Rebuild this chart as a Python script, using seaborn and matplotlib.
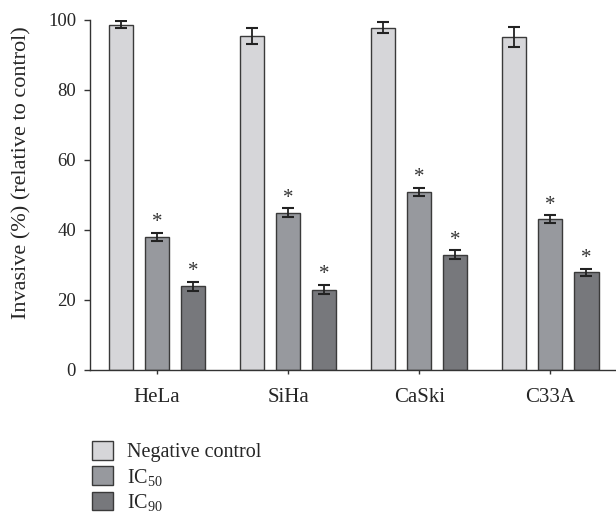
import matplotlib
matplotlib.use("Agg")
import matplotlib.pyplot as plt
import seaborn as sns
import pandas as pd
import numpy as np

cell_lines = ["HeLa", "SiHa", "CaSki", "C33A"]
groups = ["Negative control", "IC$_{\\mathregular{50}}$", "IC$_{\\mathregular{90}}$"]
neg_control = [98.7, 95.5, 97.8, 95.2]
ic50 = [38.0, 45.0, 50.9, 43.1]
ic90 = [23.9, 23.0, 32.9, 27.9]
neg_err = [1.0, 2.3, 1.5, 2.9]
ic50_err = [1.2, 1.2, 1.2, 1.1]
ic90_err = [1.3, 1.3, 1.25, 1.1]
significant = [False, True, True]
yticks = [0, 20, 40, 60, 80, 100]
colors = ["#d5d6da", "#96989f", "#76787d"]

sns.set_style("white")
plt.rcParams['font.family'] = ['Liberation Serif', 'DejaVu Serif']
plt.rcParams['mathtext.fontset'] = 'custom'
plt.rcParams['mathtext.rm'] = 'Liberation Serif'
plt.rcParams['mathtext.it'] = 'Liberation Serif:italic'

values = [neg_control, ic50, ic90]
errors = [neg_err, ic50_err, ic90_err]
rows = []
for g, vals, errs in zip(groups, values, errors):
    for c, v, e in zip(cell_lines, vals, errs):
        rows.append({"cell": c, "group": g, "value": v, "err": e})
df = pd.DataFrame(rows)

fig = plt.figure(figsize=(6.16, 5.14), dpi=100)
ax = fig.add_axes([90/616, 144/514, 526/616, 350/514])

sns.barplot(data=df, x="cell", y="value", hue="group", order=cell_lines,
            hue_order=groups, palette=colors, width=0.825, gap=0.33,
            errorbar=None, edgecolor="#3a3a3a", linewidth=1.0, ax=ax,
            legend=True)

# error bars and asterisks
for gi, (g, cont) in enumerate(zip(groups, ax.containers)):
    sub = df[df["group"] == g].set_index("cell").loc[cell_lines]
    for patch, (_, r) in zip(cont.patches, sub.iterrows()):
        xc = patch.get_x() + patch.get_width() / 2
        ax.errorbar(xc, r["value"], yerr=r["err"], fmt="none",
                    ecolor="#222222", elinewidth=1.3, capsize=4.3, capthick=1.5)
        if significant[gi]:
            ax.text(xc, r["value"] + r["err"] + 0.2, "*", ha="center",
                    va="bottom", fontsize=15, color="#333333")

ax.set_ylim(0, 100)
ax.set_xlim(-0.51, 3.5)
ax.set_yticks(yticks)
ax.set_yticklabels([str(t) for t in yticks], fontsize=13.5)
ax.tick_params(axis="x", labelsize=15, length=3, width=1, direction="out",
               bottom=True, pad=10, color="#333333")
ax.tick_params(axis="y", length=4, width=1, direction="out", left=True,
               pad=6, color="#333333")
ax.set_xlabel("")
ax.set_ylabel("Invasive (%) (relative to control)", fontsize=16)
ax.yaxis.set_label_coords(-0.112, 0.563)
for s in ["top", "right"]:
    ax.spines[s].set_visible(False)
for s in ["left", "bottom"]:
    ax.spines[s].set_color("#333333")
    ax.spines[s].set_linewidth(1.0)

handles, labels = ax.get_legend_handles_labels()
ax.get_legend().remove()
fig.legend(handles, labels, loc="upper left", bbox_to_anchor=(84/616, 1 - 433/514),
           frameon=False, fontsize=14.5, handlelength=1.05, handleheight=1.05,
           labelspacing=0.2, handletextpad=0.7, borderaxespad=0)

fig.savefig("out.png", dpi=100)
